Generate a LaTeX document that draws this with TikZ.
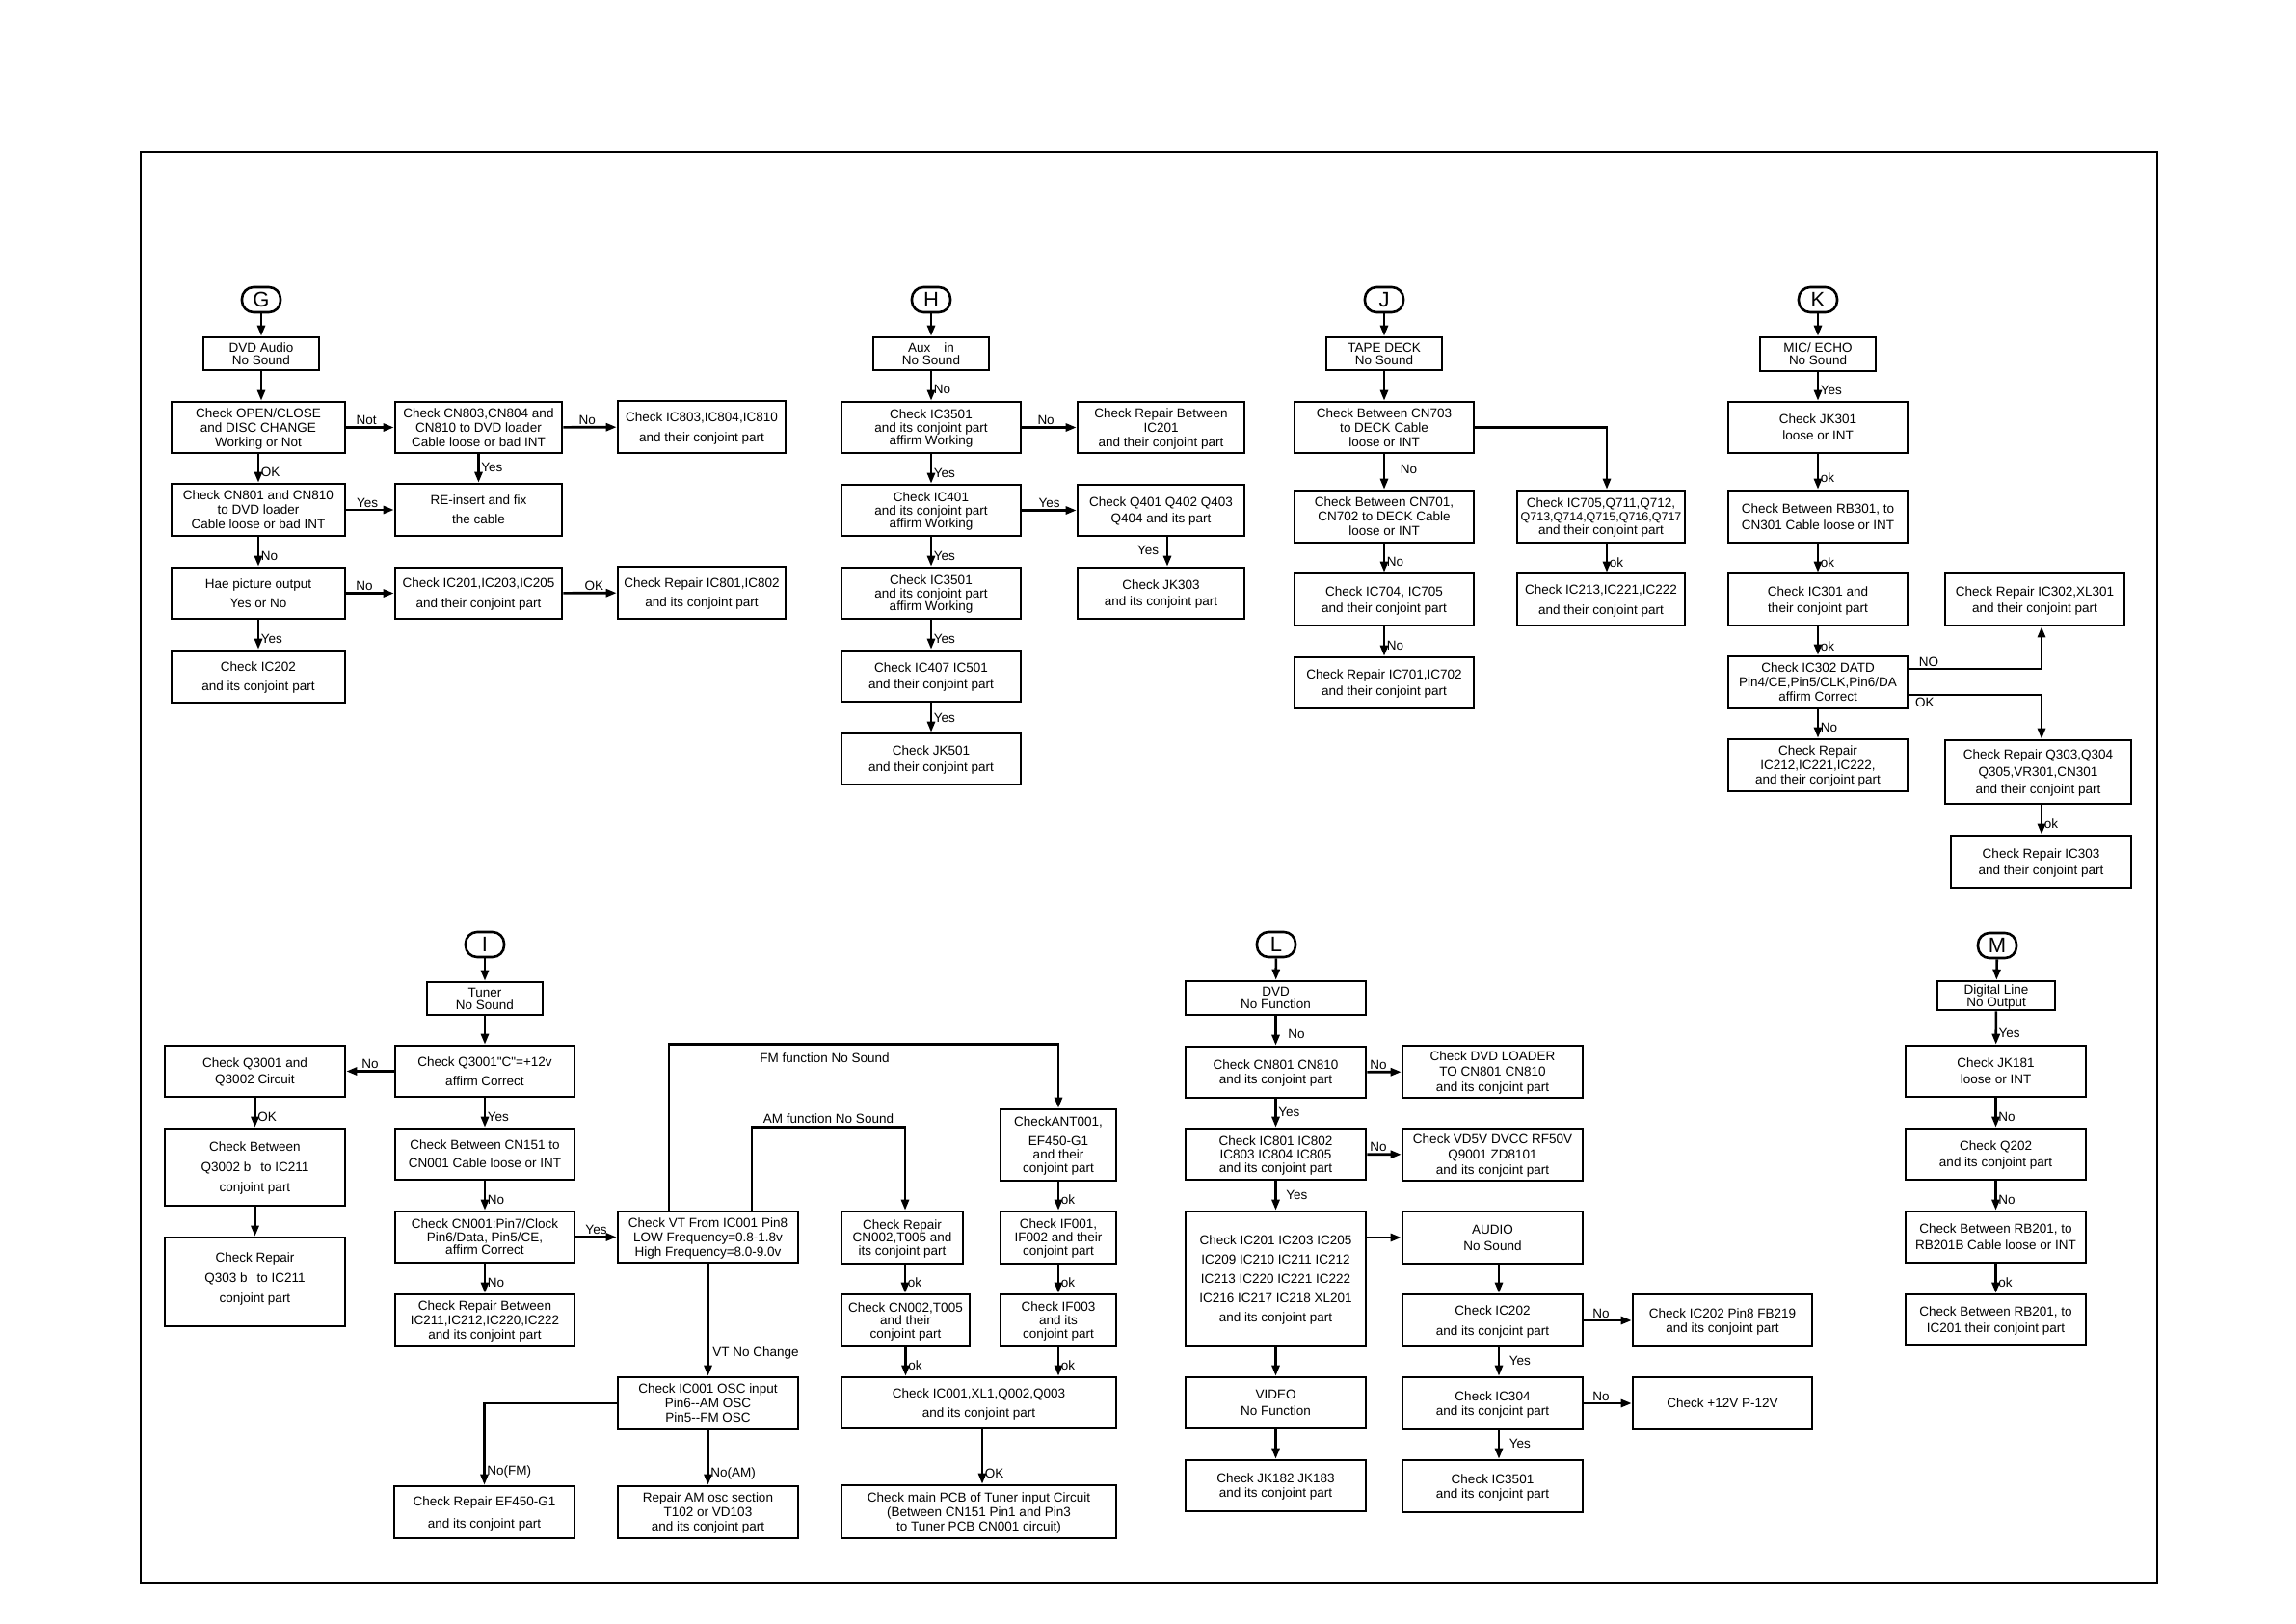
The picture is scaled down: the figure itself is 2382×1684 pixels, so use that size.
\documentclass[tikz,border=0pt]{standalone}
\usepackage{fontspec}
\newfontfamily\cad{Liberation Sans}
\usetikzlibrary{arrows.meta,calc}
\newcommand\B[7][]{\node[bx,#1,minimum width={#5-#3},minimum height={#6-#4}] (#2) at ({(#3+#5)/2},{(#4+#6)/2}) {#7};}
\begin{document}
\begin{tikzpicture}[x=1pt,y=-1pt,
  bx/.style={draw, line width=2.6pt, inner sep=0pt, align=center, text depth=-3pt, font={\cad\fontsize{13.5}{15}\selectfont}},
  ls/.style={font={\cad\fontsize{13.5}{#1}\selectfont}},
  lt/.style={draw, line width=2.6pt, rounded corners=12pt, minimum width=40pt, minimum height=26pt, inner sep=0pt, font={\cad\fontsize{22}{22}\selectfont}},
  ar/.style={line width=2.6pt, -{Triangle[length=11pt,width=8pt]}},
  lb/.style={font={\cad\fontsize{13.5}{14}\selectfont}, inner sep=1.5pt},
]
\fill[white] (0,0) rectangle (2382,1684);
\useasboundingbox (0,0) rectangle (2382,1684);
\draw[line width=2pt] (146,158) rectangle (2238,1642);

% ---------------- G ----------------
\node[lt] (gC) at (271,311) {G};
\B[ls=13]{g0}{211}{350}{331}{384}{DVD Audio\\No Sound}
\B{g1}{178}{417}{358}{470}{Check OPEN/CLOSE\\and DISC CHANGE\\Working or Not}
\B{g2}{178}{502}{358}{556}{Check CN801 and CN810\\to DVD loader\\Cable loose or bad INT}
\B[ls=20]{g3}{178}{589}{358}{642}{Hae picture output\\Yes or No}
\B[ls=20]{g4}{178}{675}{358}{729}{Check IC202\\and its conjoint part}
\B{g5}{410}{417}{583}{470}{Check CN803,CN804 and\\CN810 to DVD loader\\Cable loose or bad INT}
\B[ls=20]{g6}{410}{502}{583}{556}{RE-insert and fix\\the cable}
\B[ls=21]{g7}{410}{589}{583}{642}{Check IC201,IC203,IC205\\and their conjoint part}
\B[ls=21]{g8}{641}{416}{815}{470}{Check IC803,IC804,IC810\\and their conjoint part}
\B[ls=20]{g9}{641}{588}{815}{642}{Check Repair IC801,IC802\\and its conjoint part}

\draw[ar] (gC) -- (g0);
\draw[ar] (g0.south) -- (g0.south |- g1.north);
\draw[ar] (g1) -- node[lb, right, pos=.62] {OK} (g2);
\draw[ar] (g2) -- node[lb, right, pos=.65] {No} (g3);
\draw[ar] (g3) -- node[lb, right, pos=.65] {Yes} (g4);
\draw[ar] (g1) -- node[lb, above, pos=.42] {Not} (g5);
\draw[ar] (g5) -- node[lb, right, pos=.45] {Yes} (g6);
\draw[ar] (g5) -- node[lb, above, pos=.45] {No} (g8);
\draw[ar] (g2) -- node[lb, above, pos=.44] {Yes} (g6);
\draw[ar] (g3) -- node[lb, above, pos=.38] {No} (g7);
\draw[ar] (g7) -- node[lb, above, pos=.58] {OK} (g9);

% ---------------- H ----------------
\node[lt] (hC) at (966,311) {H};
\B[ls=13]{h0}{906}{350}{1026}{384}{Aux\hspace{14pt}in\\No Sound}
\B[ls=13.5]{h1}{873}{417}{1059}{470}{Check IC3501\\and its conjoint part\\affirm Working}
\B[ls=13.5]{h2}{873}{503}{1059}{556}{Check IC401\\and its conjoint part\\affirm Working}
\B[ls=13.5]{h3}{873}{589}{1059}{642}{Check IC3501\\and its conjoint part\\affirm Working}
\B[ls=17]{h4}{873}{675}{1059}{728}{Check IC407 IC501\\and their conjoint part}
\B[ls=17]{h5}{873}{761}{1059}{814}{Check JK501\\and their conjoint part}
\B[ls=15]{h6}{1118}{417}{1291}{470}{Check Repair Between\\IC201\\and their conjoint part}
\B[ls=17]{h7}{1118}{503}{1291}{556}{Check Q401 Q402 Q403\\Q404 and its part}
\B[ls=17]{h8}{1118}{589}{1291}{642}{Check JK303\\and its conjoint part}

\draw[ar] (hC) -- (h0);
\draw[ar] (h0) -- node[lb, right, pos=.62] {No} (h1);
\draw[ar] (h1) -- node[lb, right, pos=.65] {Yes} (h2);
\draw[ar] (h2) -- node[lb, right, pos=.65] {Yes} (h3);
\draw[ar] (h3) -- node[lb, right, pos=.65] {Yes} (h4);
\draw[ar] (h4) -- node[lb, right, pos=.5] {Yes} (h5);
\draw[ar] (h1) -- node[lb, above, pos=.44] {No} (h6);
\draw[ar] (h2) -- node[lb, above, pos=.5] {Yes} (h7);
\draw[ar] ([xshift=6.5pt]h7.south) -- node[lb, left=6pt, pos=.45] {Yes} ([xshift=6.5pt]h8.north);

% ---------------- J ----------------
\node[lt] (jC) at (1436,311) {J};
\B[ls=13]{j0}{1376}{350}{1496}{384}{TAPE DECK\\No Sound}
\B{j1}{1343}{417}{1529}{470}{Check Between CN703\\to DECK Cable\\loose or INT}
\B{j2}{1343}{509}{1529}{563}{Check Between CN701,\\CN702 to DECK Cable\\loose or INT}
\B[ls=17]{j3}{1343}{595}{1529}{649}{Check IC704, IC705\\and their conjoint part}
\B[ls=17]{j4}{1343}{682}{1529}{735}{Check Repair IC701,IC702\\and their conjoint part}
\B[ls=14]{j5}{1574}{509}{1748}{563}{Check IC705,Q711,Q712,\\{\fontsize{12.5}{14}\selectfont Q713,Q714,Q715,Q716,Q717}\\and their conjoint part}
\B[ls=21]{j6}{1574}{595}{1748}{649}{Check IC213,IC221,IC222\\and their conjoint part}

\draw[ar] (jC) -- (j0);
\draw[ar] (j0) -- (j1);
\draw[ar] (j1) -- node[lb, right=14pt, pos=.42] {No} (j2);
\draw[ar] (j2) -- node[lb, right, pos=.65] {No} (j3);
\draw[ar] (j3) -- node[lb, right, pos=.65] {No} (j4);
\draw[ar] (j1.east) -| ([xshift=6pt]j5.north);
\draw[ar] ([xshift=6pt]j5.south) -- node[lb, right, pos=.65] {ok} ([xshift=6pt]j6.north);

% ---------------- K ----------------
\node[lt] (kC) at (1886,311) {K};
\B[ls=13]{k0}{1826}{350}{1946}{385}{MIC/ ECHO\\No Sound}
\B[ls=17]{k1}{1793}{417}{1979}{470}{Check JK301\\loose or INT}
\B[ls=17]{k2}{1793}{509}{1979}{563}{Check Between RB301, to\\CN301 Cable loose or INT}
\B[ls=17]{k3}{1793}{595}{1979}{649}{Check IC301 and\\their conjoint part}
\B[ls=15]{k4}{1793}{681}{1979}{735}{Check IC302 DATD\\Pin4/CE,Pin5/CLK,Pin6/DA\\affirm Correct}
\B[ls=15]{k5}{1793}{767}{1979}{821}{Check Repair\\IC212,IC221,IC222,\\and their conjoint part}
\B[ls=17]{k6}{2018}{595}{2204}{649}{Check Repair IC302,XL301\\and their conjoint part}
\B[ls=18]{k7}{2018}{768}{2211}{834}{Check Repair Q303,Q304\\Q305,VR301,CN301\\and their conjoint part}
\B[ls=17]{k8}{2024}{867}{2211}{921}{Check Repair IC303\\and their conjoint part}

\draw[ar] (kC) -- (k0);
\draw[ar] (k0) -- node[lb, right, pos=.62] {Yes} (k1);
\draw[ar] (k1) -- node[lb, right, pos=.68] {ok} (k2);
\draw[ar] (k2) -- node[lb, right, pos=.65] {ok} (k3);
\draw[ar] (k3) -- node[lb, right, pos=.68] {ok} (k4);
\draw[ar] (k4) -- node[lb, right, pos=.65] {No} (k5);
\draw[ar] ([yshift=14pt]k4.east) -| node[lb, above, pos=.075] {NO} ([xshift=7pt]k6.south);
\draw[ar] ([yshift=-13pt]k4.east) -| node[lb, below, pos=.06] {OK} ([xshift=3.5pt]k7.north);
\draw[ar] ([xshift=3.5pt]k7.south) -- node[lb, right, pos=.65] {ok} ([xshift=3.5pt]k7.south |- k8.north);

% ---------------- I ----------------
\node[lt] (iC) at (503,980) {I};
\B[ls=13]{i0}{443}{1019}{563}{1053}{Tuner\\No Sound}
\B[ls=20]{i1}{410}{1085}{596}{1138}{Check Q3001"C"=+12v\\affirm Correct}
\B[ls=19]{i2}{410}{1171}{596}{1224}{Check Between CN151 to\\CN001 Cable loose or INT}
\B[ls=13.5]{i3}{410}{1257}{596}{1310}{Check CN001:Pin7/Clock\\Pin6/Data, Pin5/CE,\\affirm Correct}
\B[ls=15]{i4}{410}{1343}{596}{1397}{Check Repair Between\\IC211,IC212,IC220,IC222\\and its conjoint part}
\B[ls=17]{i5}{171}{1085}{358}{1138}{Check Q3001 and\\Q3002 Circuit}
\B[ls=21, text depth=-15pt]{i6}{171}{1171}{358}{1251}{Check Between\\Q3002 b\hspace{10pt}to IC211\\conjoint part}
\B[ls=21, text depth=9pt]{i7}{171}{1284}{358}{1376}{Check Repair\\Q303 b\hspace{10pt}to IC211\\conjoint part}
\B[ls=15]{i8}{641}{1257}{828}{1310}{Check VT From IC001 Pin8\\LOW Frequency=0.8-1.8v\\High Frequency=8.0-9.0v}
\B[ls=15]{i9}{641}{1429}{828}{1483}{Check IC001 OSC input\\Pin6-{}-AM OSC\\Pin5-{}-FM OSC}
\B[ls=23]{i10}{409}{1542}{596}{1596}{Check Repair EF450-G1\\and its conjoint part}
\B[ls=15]{i11}{641}{1542}{828}{1596}{Repair AM osc section\\T102 or VD103\\and its conjoint part}
\B[ls=14]{i12}{1038}{1151}{1158}{1225}{CheckANT001,\\[6pt]EF450-G1\\and their\\conjoint part}
\B[ls=14]{i13}{1038}{1257}{1158}{1311}{Check IF001,\\IF002 and their\\conjoint part}
\B[ls=14]{i14}{1038}{1343}{1158}{1397}{Check IF003\\and its\\conjoint part}
\B[ls=13.5]{i15}{873}{1257}{999}{1311}{Check Repair\\CN002,T005 and\\its conjoint part}
\B[ls=13.5]{i16}{873}{1343}{1006}{1397}{Check CN002,T005\\and their\\conjoint part}
\B[ls=20]{i17}{873}{1429}{1158}{1482}{Check IC001,XL1,Q002,Q003\\and its conjoint part}
\B[ls=15]{i18}{873}{1541}{1158}{1596}{Check main PCB of Tuner input Circuit\\(Between CN151 Pin1 and Pin3\\to Tuner PCB CN001 circuit)}

\draw[ar] (iC) -- (i0);
\draw[ar] (i0) -- (i1);
\draw[ar] (i1) -- node[lb, right, pos=.65] {Yes} (i2);
\draw[ar] (i2) -- node[lb, right, pos=.65] {No} (i3);
\draw[ar] (i3) -- node[lb, right, pos=.65] {No} (i4);
\draw[ar] (i1) -- node[lb, above, pos=.5] {No} (i5);
\draw[ar] (i5) -- node[lb, right, pos=.65] {OK} (i6);
\draw[ar] (i6) -- (i7);
\draw[ar] (i3) -- node[lb, above, pos=.5] {Yes} (i8);
\draw[ar] ([xshift=-40.5pt]i8.north) -- ++(0,-172) -| node[lb, below=6pt, pos=.2] {FM function No Sound} (i12.north);
\draw[ar] ([xshift=45.5pt]i8.north) -- ++(0,-86) -| node[lb, above=1pt, pos=.25] {AM function No Sound} ([xshift=3pt]i15.north);
\draw[ar] (i8) -- node[lb, right=2pt, pos=.8] {VT No Change} (i9);
\draw[ar] (i9.west) -| node[lb, right, pos=.92] {No(FM)} (i10.north);
\draw[ar] (i9) -- node[lb, right, pos=.8] {No(AM)} (i11);
\draw[ar] (i12) -- node[lb, right, pos=.62] {ok} (i13);
\draw[ar] (i13) -- node[lb, right, pos=.62] {ok} (i14);
\draw[ar] ([xshift=3pt]i15.south) -- node[lb, right, pos=.62] {ok} ([xshift=3pt]i15.south |- i16.north);
\draw[ar] (i16.south) -- node[lb, right, pos=.62] {ok} (i16.south |- i17.north);
\draw[ar] (i14.south) -- node[lb, right, pos=.62] {ok} (i14.south |- i17.north);
\draw[ar] ([xshift=3.5pt]i17.south) -- node[lb, right, pos=.8] {OK} ([xshift=3.5pt]i18.north);

% ---------------- L ----------------
\node[lt] (lC) at (1324,980) {L};
\B[ls=13]{l0}{1230}{1018}{1417}{1053}{DVD\\No Function}
\B[ls=15]{l1}{1230}{1086}{1417}{1139}{Check CN801 CN810\\and its conjoint part}
\B[ls=14]{l2}{1230}{1171}{1417}{1224}{Check IC801 IC802\\IC803 IC804 IC805\\and its conjoint part}
\B[ls=20]{l3}{1230}{1257}{1417}{1397}{Check IC201 IC203 IC205\\IC209 IC210 IC211 IC212\\IC213 IC220 IC221 IC222\\IC216 IC217 IC218 XL201\\and its conjoint part}
\B[ls=17]{l4}{1230}{1429}{1417}{1482}{VIDEO\\No Function}
\B[ls=15]{l5}{1230}{1515}{1417}{1568}{Check JK182 JK183\\and its conjoint part}
\B[ls=16]{l6}{1455}{1085}{1642}{1139}{Check DVD LOADER\\TO CN801 CN810\\and its conjoint part}
\B[ls=16]{l7}{1455}{1171}{1642}{1225}{Check VD5V DVCC RF50V\\Q9001 ZD8101\\and its conjoint part}
\B[ls=17]{l8}{1455}{1257}{1642}{1311}{AUDIO\\No Sound}
\B[ls=21]{l9}{1455}{1343}{1642}{1397}{Check IC202\\and its conjoint part}
\B[ls=15]{l10}{1455}{1429}{1642}{1483}{Check IC304\\and its conjoint part}
\B[ls=15]{l11}{1455}{1515}{1642}{1569}{Check IC3501\\and its conjoint part}
\B[ls=15]{l12}{1694}{1343}{1880}{1397}{Check IC202 Pin8 FB219\\and its conjoint part}
\B{l13}{1694}{1429}{1880}{1483}{Check +12V P-12V}

\draw[ar] (lC) -- (l0);
\draw[ar] (l0) -- node[lb, right=10pt, pos=.62] {No} (l1);
\draw[ar] (l1) -- node[lb, right, pos=.47] {Yes} (l2);
\draw[ar] (l2) -- node[lb, right=8pt, pos=.48] {Yes} (l3);
\draw[ar] (l3) -- (l4);
\draw[ar] (l4) -- (l5);
\draw[ar] (l1) -- node[lb, above, pos=.33] {No} (l6);
\draw[ar] (l2) -- node[lb, above, pos=.33] {No} (l7);
\draw[ar] (l3.east |- l8.west) -- (l8.west);
\draw[ar] ([xshift=6.5pt]l8.south) -- ([xshift=6.5pt]l9.north);
\draw[ar] ([xshift=6.5pt]l9.south) -- node[lb, right=8pt, pos=.47] {Yes} ([xshift=6.5pt]l10.north);
\draw[ar] ([xshift=6.5pt]l10.south) -- node[lb, right=8pt, pos=.47] {Yes} ([xshift=6.5pt]l11.north);
\draw[ar] (l9) -- node[lb, above, pos=.36] {No} (l12);
\draw[ar] (l10) -- node[lb, above, pos=.36] {No} (l13);

% ---------------- M ----------------
\node[lt] (mC) at (2072,981) {M};
\B[ls=13]{m0}{2010}{1018}{2132}{1048}{Digital Line\\No Output}
\B[ls=17]{m1}{1977}{1085}{2164}{1138}{Check JK181\\loose or INT}
\B[ls=17]{m2}{1977}{1171}{2164}{1224}{Check Q202\\and its conjoint part}
\B[ls=17]{m3}{1977}{1257}{2164}{1310}{Check Between RB201, to\\RB201B Cable loose or INT}
\B[ls=17]{m4}{1977}{1343}{2164}{1396}{Check Between RB201, to\\IC201 their conjoint part}

\draw[ar] (mC) -- (m0);
\draw[ar] (m0) -- node[lb, right, pos=.65] {Yes} (m1);
\draw[ar] (m1) -- node[lb, right, pos=.65] {No} (m2);
\draw[ar] (m2) -- node[lb, right, pos=.65] {No} (m3);
\draw[ar] (m3) -- node[lb, right, pos=.65] {ok} (m4);
\end{tikzpicture}
\end{document}
